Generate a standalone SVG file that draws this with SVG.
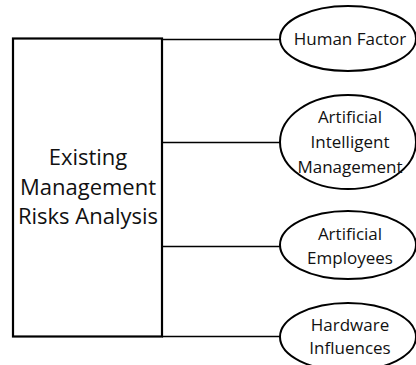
<svg xmlns="http://www.w3.org/2000/svg" width="416" height="365" viewBox="0 0 416 365">
  <style>
    .box { fill: #fff; stroke: #000; stroke-width: 2.2; }
    .oval { fill: #fff; stroke: #000; stroke-width: 2; }
    .link { fill: none; stroke: #000; stroke-width: 1.6; }
    text { font-family: "Open Sans", "Liberation Sans", sans-serif; fill: #111; text-anchor: middle; }
    .main { font-size: 22px; }
    .lbl { font-size: 17px; }
  </style>
  <rect width="416" height="365" fill="#fff"/>

  <!-- connectors from the analysis box to each factor -->
  <g id="connectors">
    <line class="link" x1="162" y1="39.5" x2="281" y2="39.5"/>
    <line class="link" x1="162" y1="142.5" x2="280" y2="142.5"/>
    <line class="link" x1="162" y1="246.5" x2="281" y2="246.5"/>
    <line class="link" x1="162" y1="336.5" x2="281" y2="336.5"/>
  </g>

  <g id="analysis">
    <rect class="box" x="13" y="38.5" width="149" height="298"/>
    <text class="main" x="88" y="165">Existing</text>
    <text class="main" x="88" y="195">Management</text>
    <text class="main" x="88" y="224">Risks Analysis</text>
  </g>

  <g id="human-factor">
    <ellipse class="oval" cx="348" cy="38.5" rx="68" ry="32.5"/>
    <text class="lbl" x="350" y="45">Human Factor</text>
  </g>

  <g id="ai-management">
    <ellipse class="oval" cx="348" cy="142" rx="68" ry="47"/>
    <text class="lbl" x="350" y="123">Artificial</text>
    <text class="lbl" x="350" y="148">Intelligent</text>
    <text class="lbl" x="350" y="173">Management</text>
  </g>

  <g id="ai-employees">
    <ellipse class="oval" cx="348" cy="245" rx="68" ry="34"/>
    <text class="lbl" x="350" y="240">Artificial</text>
    <text class="lbl" x="350" y="264">Employees</text>
  </g>

  <g id="hardware">
    <ellipse class="oval" cx="348" cy="337" rx="68" ry="34"/>
    <text class="lbl" x="350" y="331">Hardware</text>
    <text class="lbl" x="350" y="354">Influences</text>
  </g>
</svg>
